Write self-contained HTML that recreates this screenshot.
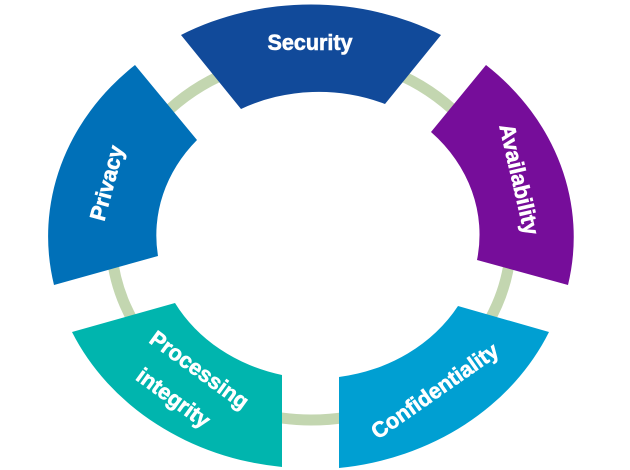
<!DOCTYPE html>
<html><head><meta charset="utf-8"><style>
html,body{margin:0;padding:0;background:#fff;width:630px;height:470px;overflow:hidden}
svg text{font-family:"Liberation Sans",Arial,sans-serif;font-weight:bold;fill:#fff}
</style></head><body>
<svg width="630" height="470" viewBox="0 0 630 470" xmlns="http://www.w3.org/2000/svg">
<ellipse cx="311" cy="238" rx="200" ry="182" fill="none" stroke="#c3d6b0" stroke-width="11"/>
<path d="M181,35 A261,230 0 0 1 441,35 L385,104 A165,145 0 0 0 241,109 Z" fill="#114a9a"/>
<path d="M135,65 A261,230 0 0 0 54,285 L158,256 A165,145 0 0 1 197,140 Z" fill="#0070b8"/>
<path d="M486,65 A261,230 0 0 1 568,285 L477,260 A165,145 0 0 0 431,132 Z" fill="#760d9a"/>
<path d="M72,332 A261,230 0 0 0 282,467 L282,375 A165,145 0 0 1 175,303 Z" fill="#00b5ae"/>
<path d="M549,332 A261,230 0 0 1 339,468 L339,377 A165,145 0 0 0 458,306 Z" fill="#009fd2"/>
<g font-size="22" stroke="#fff" stroke-width="0.6">
<text transform="translate(310,50) scale(0.98,1)" text-anchor="middle">Security</text>
<text transform="translate(114,185) rotate(-75) scale(0.98,1)" text-anchor="middle">Privacy</text>
<text transform="translate(512,181) rotate(77) scale(0.98,1)" text-anchor="middle">Availability</text>
<text transform="translate(439,397) rotate(-35) scale(0.98,1)" text-anchor="middle">Confidentiality</text>
<text transform="translate(195,376) rotate(36) scale(0.98,1)" text-anchor="middle">Processing</text>
<text transform="translate(169,404) rotate(36) scale(0.98,1)" text-anchor="middle">integrity</text>
</g>
</svg>
</body></html>
